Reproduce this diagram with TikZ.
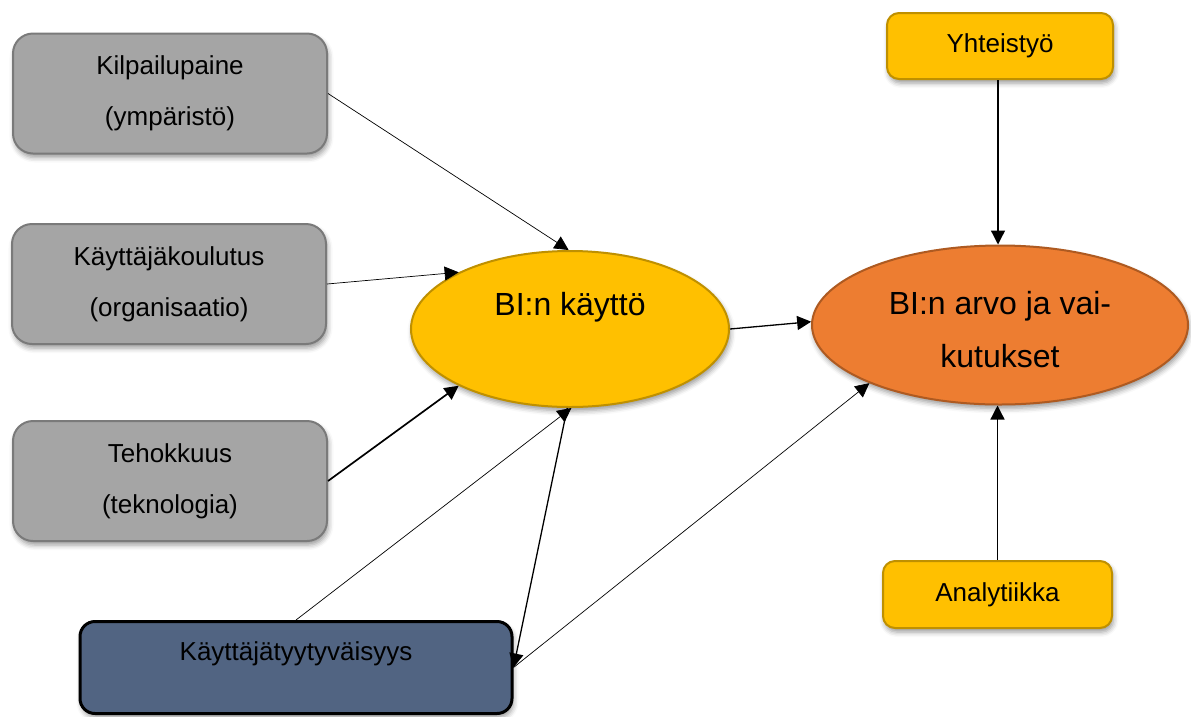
\documentclass[tikz,border=0pt]{standalone}
\usepackage{fontspec}
\setmainfont{Liberation Sans}
\usetikzlibrary{shapes.geometric,arrows.meta,shadows.blur}

\definecolor{factorfill}{HTML}{A5A5A5}
\definecolor{factorline}{HTML}{7A7A7A}
\definecolor{goldfill}{HTML}{FFC000}
\definecolor{goldline}{HTML}{BF9000}
\definecolor{orangefill}{HTML}{ED7D31}
\definecolor{orangeline}{HTML}{AE5A21}
\definecolor{slatefill}{HTML}{516482}

\begin{document}
\begin{tikzpicture}[x=1pt,y=-1pt,
  shadowed/.style={blur shadow={shadow xshift=1.5pt,shadow yshift=-4pt,
      shadow blur radius=5pt,shadow opacity=40}},
  factor/.style={shadowed,draw=factorline,fill=factorfill,line width=2pt,
      rounded corners=20pt,minimum width=314pt,minimum height=120pt,
      align=center,font=\fontsize{26}{51}\selectfont},
  satisfaction/.style={shadowed,draw=black,fill=slatefill,line width=3pt,
      rounded corners=15pt,minimum width=432pt,minimum height=92pt},
  usage/.style={shadowed,ellipse,draw=goldline,fill=goldfill,line width=2pt,
      minimum width=318pt,minimum height=156pt},
  valueshape/.style={shadowed,ellipse,draw=orangeline,fill=orangefill,line width=2pt,
      minimum width=376pt,minimum height=159pt},
  tag/.style={shadowed,draw=goldline,fill=goldfill,line width=2pt,
      rounded corners=12pt,minimum width=226pt,minimum height=66pt,
      font=\fontsize{26}{30}\selectfont},
  smalltext/.style={font=\fontsize{26}{30}\selectfont},
  bigtext/.style={align=center,font=\fontsize{32}{53}\selectfont},
  tip/.style={-{Triangle[length=14pt,width=14pt]}},
  thinarrow/.style={tip,line width=0.7pt},
  midarrow/.style={tip,line width=1.3pt},
  thickarrow/.style={tip,line width=1.7pt}
]
\useasboundingbox (0,0) rectangle (1191,716);

% left-hand factors
\node[factor] (kil) at (170,93.5) {Kilpailupaine\\(ympäristö)};
\node[factor] (kou) at (169,284) {Käyttäjäkoulutus\\(organisaatio)};
\node[factor] (teh) at (170,481) {Tehokkuus\\(teknologia)};

% user satisfaction
\node[satisfaction] (kay) at (296,667.5) {};
\node[smalltext] (kaytxt) at (296,654) {Käyttäjätyytyväisyys};

% central ellipses
\node[usage] (use) at (570,329) {};
\node[bigtext] (usetxt) at (570,307) {BI:n käyttö};
\node[valueshape] (arvo) at (1000,325) {};
\node[bigtext] (arvotxt) at (1000,330) {BI:n arvo ja vai-\\kutukset};

% right-hand factors
\node[tag] (yht) at (1000,46) {Yhteistyö};
\node[tag,minimum width=229pt,minimum height=67pt] (ana) at (997.5,594.5) {Analytiikka};

% connectors
\draw[thinarrow] (kil.east) -- (use.91);
\draw[thinarrow] (kou.east) -- (use.153);
\draw[thickarrow] (teh.east) -- (use.207);
\draw[thinarrow] (kay.north) -- (use.271);
\draw[midarrow] (use.268) -- (kay.east);
\draw[thinarrow] (kay.east) -- (arvo.204);
\draw[midarrow] (use.east) -- (arvo.179);
\draw[midarrow] ([xshift=-2pt]yht.south) -- ([xshift=-2pt]yht.south |- arvo.north);
\draw[midarrow] (ana.north) -- (ana.north |- arvo.south);
\end{tikzpicture}
\end{document}
